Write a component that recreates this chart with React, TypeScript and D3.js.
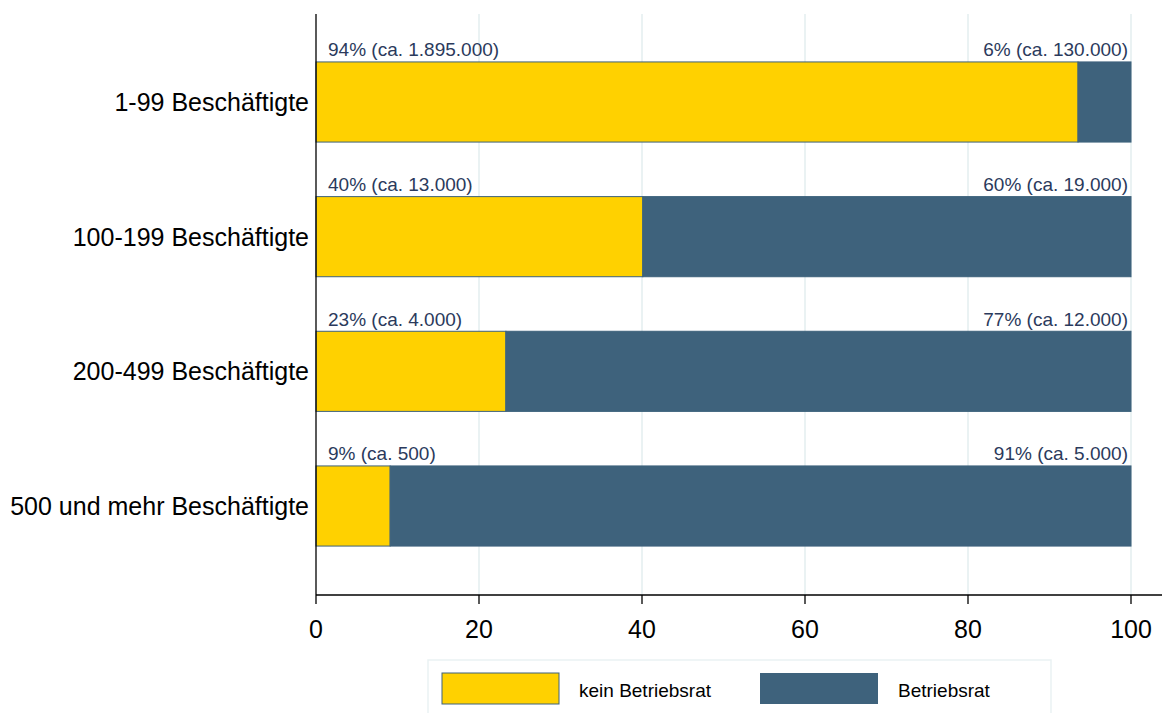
import React from "react";
import * as d3 from "d3";

const categories = ["1-99 Beschäftigte", "100-199 Beschäftigte", "200-499 Beschäftigte", "500 und mehr Beschäftigte"];
const keinValues = [93.5, 40.1, 23.3, 9.1];
const betriebsratValues = [6.5, 59.9, 76.7, 90.9];
const leftLabels = ["94% (ca. 1.895.000)", "40% (ca. 13.000)", "23% (ca. 4.000)", "9% (ca. 500)"];
const rightLabels = ["6% (ca. 130.000)", "60% (ca. 19.000)", "77% (ca. 12.000)", "91% (ca. 5.000)"];
const xTicks = [0, 20, 40, 60, 80, 100];
const seriesNames = ["kein Betriebsrat", "Betriebsrat"];

const YELLOW = "#FFD100";
const DARK = "#3E627C";
const FONT = "'Liberation Sans', Arial, sans-serif";

export default function App() {
  const W = 1165, H = 713;
  const x = d3.scaleLinear().domain([0, 100]).range([316, 1131]);
  const y = d3.scaleBand<string>().domain(categories).range([35, 573]).paddingInner(0.405).paddingOuter(0.2);
  const axisY = 595;
  return (
    <svg width={W} height={H} style={{ position: "absolute", left: 0, top: 0, background: "#fff" }} fontFamily={FONT}>
      {xTicks.filter(t => t > 0).map(t => (
        <line key={"g" + t} x1={x(t)} x2={x(t)} y1={14} y2={axisY} stroke="#EAF2F3" strokeWidth={2} />
      ))}
      {categories.map((c, i) => {
        const y0 = y(c)!;
        const bh = y.bandwidth();
        return (
          <g key={c}>
            <rect x={x(0)} y={y0} width={x(keinValues[i]) - x(0)} height={bh} fill={YELLOW} stroke={DARK} strokeWidth={1} />
            <rect x={x(keinValues[i])} y={y0} width={x(keinValues[i] + betriebsratValues[i]) - x(keinValues[i])} height={bh} fill={DARK} stroke={DARK} strokeWidth={1} />
            <text x={x(0) + 12} y={y0 - 5.5} fontSize={19} fill="#2B3A5C">{leftLabels[i]}</text>
            <text x={x(100) - 3} y={y0 - 5.5} fontSize={19} fill="#2B3A5C" textAnchor="end">{rightLabels[i]}</text>
            <text x={309} y={y0 + bh / 2} fontSize={25} fill="#000" textAnchor="end" dominantBaseline="central">{c}</text>
          </g>
        );
      })}
      <line x1={316} x2={316} y1={14} y2={axisY} stroke="#000" strokeWidth={1.3} />
      <line x1={316} x2={1162} y1={axisY} y2={axisY} stroke="#000" strokeWidth={1.3} />
      {xTicks.map(t => (
        <g key={"t" + t}>
          <line x1={x(t)} x2={x(t)} y1={axisY} y2={axisY + 9} stroke="#000" strokeWidth={1.3} />
          <text x={x(t)} y={638} fontSize={25} textAnchor="middle" fill="#000">{t}</text>
        </g>
      ))}
      <rect x={428} y={660} width={623} height={60} fill="#fff" stroke="#EAF2F3" strokeWidth={1.5} />
      <rect x={442} y={673} width={117} height={31} fill={YELLOW} stroke={DARK} strokeWidth={1} />
      <text x={579} y={697} fontSize={19} fill="#000">{seriesNames[0]}</text>
      <rect x={760} y={673} width={118} height={31} fill={DARK} />
      <text x={898} y={697} fontSize={19} fill="#000">{seriesNames[1]}</text>
    </svg>
  );
}
